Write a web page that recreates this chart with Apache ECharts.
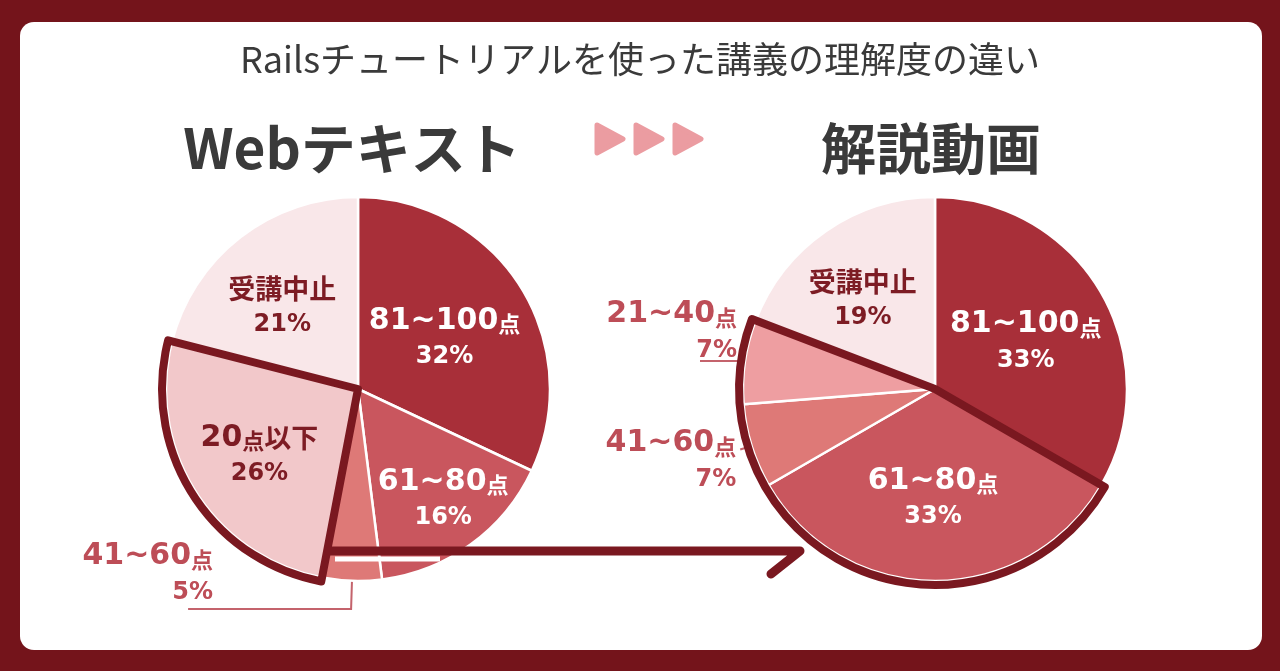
<!DOCTYPE html>
<html>
<head>
<meta charset="utf-8">
<title>Railsチュートリアルを使った講義の理解度の違い</title>
<style>
  html, body { margin: 0; padding: 0; background: #74141b; }
  #chart { width: 1280px; height: 671px; }
</style>
<script src="https://cdn.jsdelivr.net/npm/echarts@6/dist/echarts.min.js"></script>
</head>
<body>
<div id="chart"></div>
<script>
// 講義の理解度 Webテキスト / 解説動画
const chartTitle = 'Railsチュートリアルを使った講義の理解度の違い'
const webTitle = 'Webテキスト'
const videoTitle = '解説動画'

const webNames = ['81~100点', '61~80点', '41~60点', '20点以下', '受講中止']
const webValues = [32, 16, 5, 26, 21]
const webHighlight = [3]

const videoNames = ['81~100点', '61~80点', '41~60点', '21~40点', '受講中止']
const videoValues = [33, 33, 7, 7, 19]
const videoHighlight = [1, 2, 3]

const sliceColors = {
  '81~100点': '#a82f39',
  '61~80点': '#c9565e',
  '41~60点': '#de7977',
  '21~40点': '#ee9ea1',
  '20点以下': '#f2c8ca',
  '受講中止': '#f9e7e9'
}

const R = 192
const darkRed = '#7a1820'
const labelDark = '#7d1c24'
const labelPink = '#bd4d57'
const lineFont = "'DejaVu Sans', 'Noto Sans CJK JP', sans-serif"
const cjkFont = "'Noto Sans CJK JP', sans-serif"

// label tweaks (per slice index) - inside labels get a shift, outside ones a line
const webLabelCfg = [
  { color: '#fff', shift: [3, 2] },
  { color: '#fff', shift: [27, 30] },
  { outside: true, len: 28, len2: 163, dist: -25, pad: [0, 0, 71, 0] },
  { color: labelDark, shift: [-15, 13] },
  { color: labelDark, shift: [-15, -5] }
]
const videoLabelCfg = [
  { color: '#fff', shift: [5, 2] },
  { color: '#fff', shift: [-2, 10] },
  { outside: true, len: 12, len2: 0, dist: 4, pad: [22, 0, 0, 0] },
  { outside: true, len: 5, len2: 40, dist: -37, pad: [0, 0, 59, 0] },
  { color: labelDark, shift: [-16, -9] }
]

function shiftPad(s) {
  const dx = s[0], dy = s[1]
  return [dy > 0 ? 2 * dy : 0, dx < 0 ? -2 * dx : 0, dy < 0 ? -2 * dy : 0, dx > 0 ? 2 * dx : 0]
}

function richName(name) {
  // digits -> n, 点 -> s, others -> k
  let out = ''
  let buf = ''
  let cur = null
  const flush = () => { if (buf) out += '{' + cur + '|' + buf + '}'; buf = '' }
  for (const ch of name) {
    const t = /[0-9~]/.test(ch) ? 'n' : (ch === '点' ? 's' : 'k')
    if (t !== cur) { flush(); cur = t }
    buf += ch
  }
  flush()
  return out
}

const rich = {
  n: { fontSize: 30, fontWeight: 'bold', fontFamily: lineFont, lineHeight: 38 },
  s: { fontSize: 22, fontWeight: 'bold', fontFamily: cjkFont, lineHeight: 38, padding: [6, 0, 0, 0] },
  k: { fontSize: 27, fontWeight: 'bold', fontFamily: cjkFont, lineHeight: 38 },
  p: { fontSize: 24, fontWeight: 'bold', fontFamily: lineFont, lineHeight: 34 }
}

function sliceData(names, values, cfg) {
  return names.map((name, i) => {
    const c = cfg[i]
    const item = {
      name: name,
      value: values[i],
      itemStyle: { color: sliceColors[name] }
    }
    if (c.outside) {
      item.label = {
        position: 'outside',
        color: labelPink,
        distanceToLabelLine: c.dist,
        padding: c.pad
      }
      item.labelLine = {
        show: true,
        length: c.len,
        length2: c.len2,
        lineStyle: { color: '#c4636c', width: 2 }
      }
    } else {
      item.label = { position: 'inside', color: c.color, padding: shiftPad(c.shift) }
      item.labelLine = { show: false }
    }
    return item
  })
}

function outlineData(values, hi) {
  const groups = []
  values.forEach((v, i) => {
    const on = hi.indexOf(i) >= 0
    const last = groups[groups.length - 1]
    if (last && last.on === on) last.value += v
    else groups.push({ value: v, on: on })
  })
  return groups.map(g => ({
    value: g.value,
    itemStyle: g.on
      ? { color: 'rgba(0,0,0,0)', borderColor: darkRed, borderWidth: 8, borderJoin: 'round' }
      : { color: 'rgba(0,0,0,0)', borderWidth: 0 }
  }))
}

function fillSeries(center, names, values, cfg) {
  return {
    type: 'pie',
    center: center,
    radius: R,
    startAngle: 90,
    clockwise: true,
    avoidLabelOverlap: false,
    silent: true,
    z: 2,
    itemStyle: { borderColor: '#fff', borderWidth: 2.5 },
    label: {
      show: true,
      position: 'inside',
      formatter: p => richName(p.name) + '\n{p|' + p.value + '%}',
      rich: rich
    },
    emphasis: { disabled: true },
    data: sliceData(names, values, cfg)
  }
}

function outlineSeries(center, values, hi) {
  return {
    type: 'pie',
    center: center,
    radius: R + 4,
    startAngle: 90,
    clockwise: true,
    silent: true,
    z: 4,
    label: { show: false },
    labelLine: { show: false },
    emphasis: { disabled: true },
    data: outlineData(values, hi)
  }
}

const webCenter = [358, 389]
const videoCenter = [935, 389]

const chart = echarts.init(document.getElementById('chart'))
chart.setOption({
  backgroundColor: '#74141b',
  animation: false,
  title: {
    text: chartTitle,
    left: 'center',
    top: 36,
    textStyle: { fontSize: 36, fontWeight: 'normal', color: '#3a3a3a', fontFamily: cjkFont }
  },
  graphic: [
    {
      type: 'rect', z: -10,
      shape: { x: 20, y: 22, width: 1242, height: 628, r: 14 },
      style: { fill: '#fff' }
    },
    {
      type: 'text', z: 10, x: 352, y: 148,
      style: { text: webTitle, fill: '#3a3a3a', font: "bold 55px 'Noto Sans CJK JP'", textAlign: 'center', textVerticalAlign: 'middle' }
    },
    {
      type: 'text', z: 10, x: 931, y: 148,
      style: { text: videoTitle, fill: '#3a3a3a', font: "bold 55px 'Noto Sans CJK JP'", textAlign: 'center', textVerticalAlign: 'middle' }
    },
    // ▶▶▶
    {
      type: 'polygon', z: 10,
      shape: { points: [[597, 125], [623, 139], [597, 153]] },
      style: { fill: '#eb9ca1', stroke: '#eb9ca1', lineWidth: 5, lineJoin: 'round' }
    },
    {
      type: 'polygon', z: 10,
      shape: { points: [[636, 125], [662, 139], [636, 153]] },
      style: { fill: '#eb9ca1', stroke: '#eb9ca1', lineWidth: 5, lineJoin: 'round' }
    },
    {
      type: 'polygon', z: 10,
      shape: { points: [[675, 125], [701, 139], [675, 153]] },
      style: { fill: '#eb9ca1', stroke: '#eb9ca1', lineWidth: 5, lineJoin: 'round' }
    },
    // arrow from left pie to right pie
    {
      type: 'polyline', z: 20,
      shape: { points: [[335, 559], [440, 559]] },
      style: { stroke: '#fff', lineWidth: 5 }
    },
    {
      type: 'polyline', z: 21,
      shape: { points: [[330, 551], [800, 551], [771, 574]] },
      style: { stroke: darkRed, lineWidth: 9, lineCap: 'round', lineJoin: 'round', fill: null }
    }
  ],
  series: [
    fillSeries(webCenter, webNames, webValues, webLabelCfg),
    outlineSeries(webCenter, webValues, webHighlight),
    fillSeries(videoCenter, videoNames, videoValues, videoLabelCfg),
    outlineSeries(videoCenter, videoValues, videoHighlight)
  ]
})
</script>
</body>
</html>
